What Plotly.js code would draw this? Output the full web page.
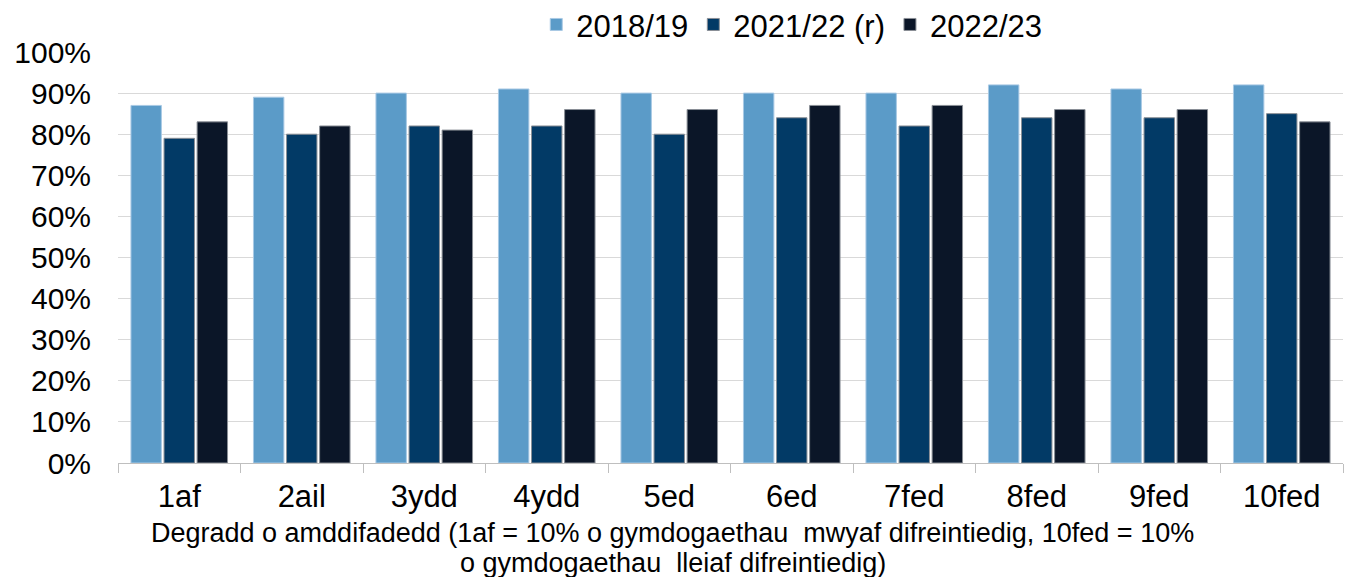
<!DOCTYPE html>
<html>
<head>
<meta charset="utf-8">
<script src="https://cdn.plot.ly/plotly-3.0.1.min.js"></script>
<style>
  html, body { margin: 0; padding: 0; background: #fff; }
  #chart { width: 1351px; height: 577px; }
</style>
</head>
<body>
<div id="chart"></div>
<script>
"use strict";

// deciles of deprivation
const deciles = ["1af", "2ail", "3ydd", "4ydd", "5ed", "6ed", "7fed", "8fed", "9fed", "10fed"];

// share per decile (fractions)
const y2018 = [0.87, 0.89, 0.90, 0.91, 0.90, 0.90, 0.90, 0.92, 0.91, 0.92];
const y2021 = [0.79, 0.80, 0.82, 0.82, 0.80, 0.84, 0.82, 0.84, 0.84, 0.85];
const y2022 = [0.83, 0.82, 0.81, 0.86, 0.86, 0.87, 0.87, 0.86, 0.86, 0.83];

const seriesNames = ["2018/19", "2021/22 (r)", "2022/23"];
const seriesColors = ["#5b9bc8", "#023a66", "#0b1628"];
const yTickVals = [0, 0.1, 0.2, 0.3, 0.4, 0.5, 0.6, 0.7, 0.8, 0.9, 1];

// x axis title, two lines as in the original
const xTitleLines = [
    "Degradd o amddifadedd (1af = 10% o gymdogaethau  mwyaf difreintiedig, 10fed = 10%",
    "o gymdogaethau  lleiaf difreintiedig)"
];

const font = "Liberation Sans, Arial, sans-serif";

let data = [y2018, y2021, y2022].map((vals, i) => ({
    type: "bar",
    name: seriesNames[i],
    x: deciles,
    y: vals,
    marker: {
        color: seriesColors[i],
        line: { color: i == 0 ? "#a9c9e4" : "#8a8f96", width: 1 }
    },
    hoverinfo: "x+y"
}));

// one annotation per title line so the line pitch can follow the original
let titleAnnots = xTitleLines.map((line, i) => ({
    xref: "paper",
    yref: "paper",
    x: 0.453,
    y: -0.17 - i * 0.073,
    xanchor: "center",
    yanchor: "middle",
    showarrow: false,
    text: line,
    font: { family: font, size: 27 }
}));

let layout = {
    width: 1351,
    height: 577,
    margin: { l: 118, r: 8, t: 52, b: 114 },
    paper_bgcolor: "#ffffff",
    plot_bgcolor: "#ffffff",
    font: { family: font, size: 30, color: "#000000" },
    barmode: "group",
    bargap: 0.19,
    bargroupgap: 0.08,
    showlegend: true,
    legend: {
        orientation: "h",
        x: 0.55,
        xanchor: "center",
        yref: "container",
        y: 0.957,
        yanchor: "middle",
        font: { family: font, size: 31 },
        itemwidth: 30,
        traceorder: "normal",
        bgcolor: "rgba(0,0,0,0)"
    },
    xaxis: {
        type: "category",
        tickson: "boundaries",
        ticks: "outside",
        ticklen: 9,
        tickcolor: "#bfbfbf",
        showline: true,
        linecolor: "#bfbfbf",
        linewidth: 1,
        showgrid: false,
        ticklabelstandoff: 6,
        tickfont: { family: font, size: 31 },
        fixedrange: true,
        automargin: false
    },
    yaxis: {
        range: [0, 1],
        tickvals: yTickVals,
        tickformat: ".0%",
        showgrid: true,
        gridcolor: "#d9d9d9",
        gridwidth: 1,
        zeroline: false,
        showline: false,
        ticks: "",
        ticklabelstandoff: 26,
        tickfont: { family: font, size: 30 },
        fixedrange: true,
        automargin: false
    },
    annotations: titleAnnots
};

Plotly.newPlot("chart", data, layout, { displayModeBar: false, staticPlot: true });
</script>
</body>
</html>
